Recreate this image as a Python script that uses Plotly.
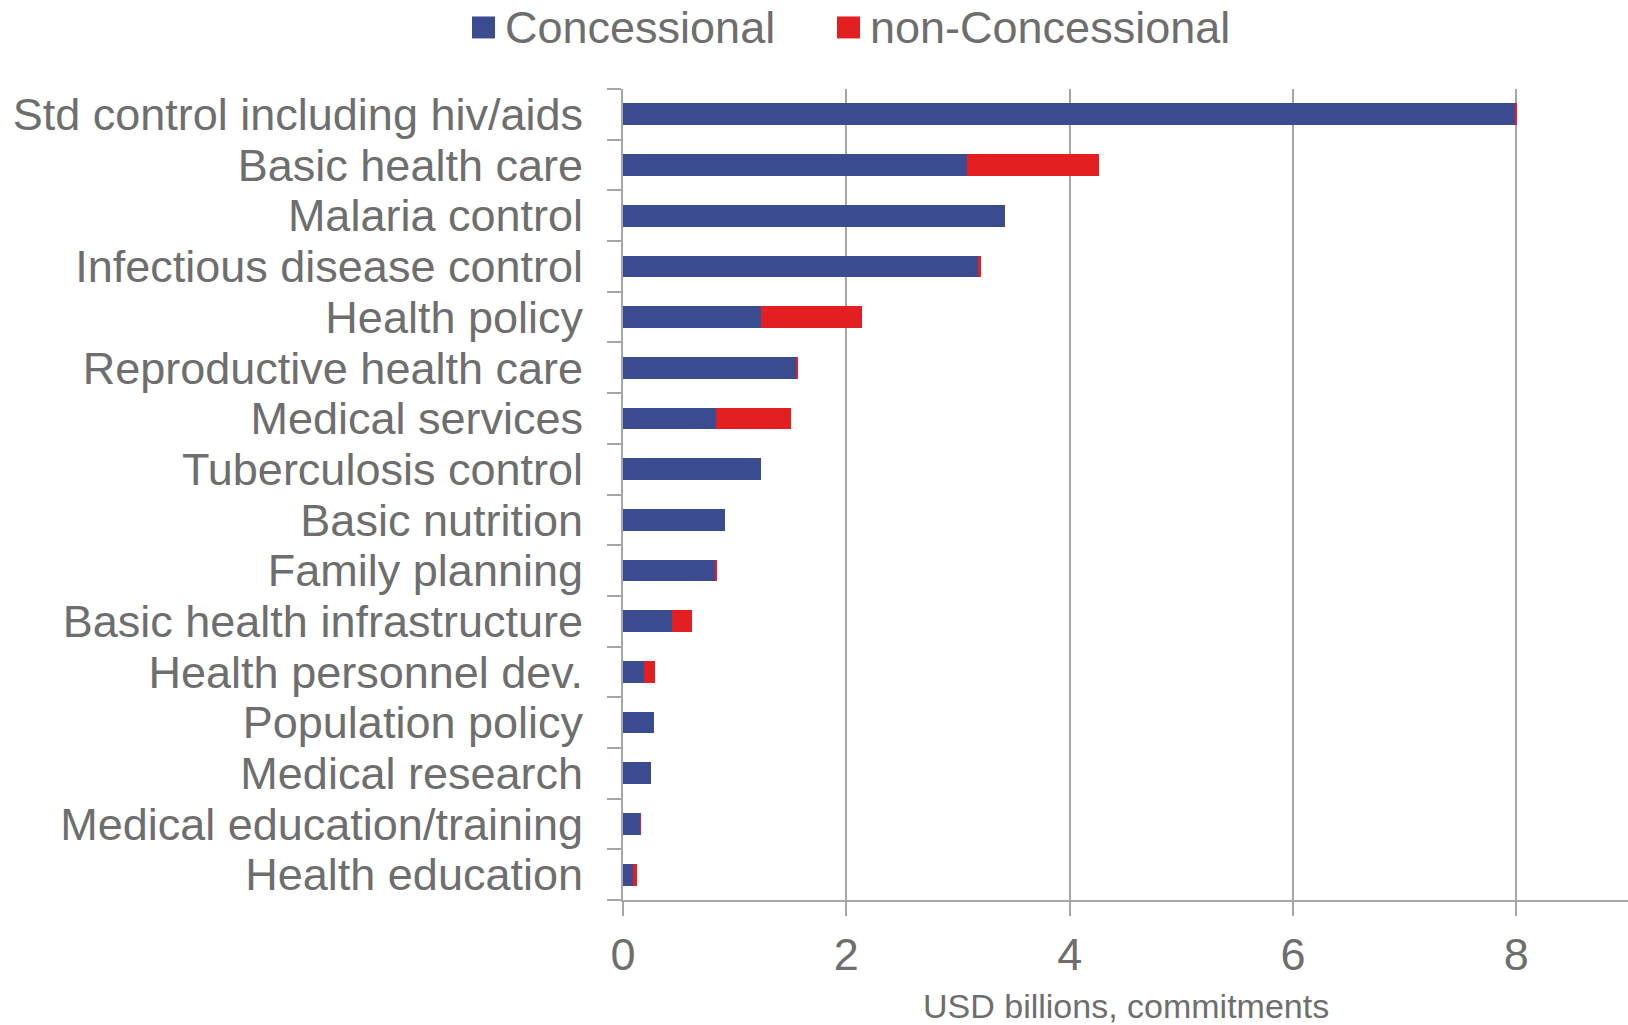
import plotly.graph_objects as go

categories = ["Std control including hiv/aids", "Basic health care", "Malaria control",
              "Infectious disease control", "Health policy", "Reproductive health care",
              "Medical services", "Tuberculosis control", "Basic nutrition", "Family planning",
              "Basic health infrastructure", "Health personnel dev.", "Population policy",
              "Medical research", "Medical education/training", "Health education"]
concessional = [7.99, 3.08, 3.42, 3.18, 1.24, 1.55, 0.83, 1.24, 0.915, 0.83, 0.435, 0.19, 0.28, 0.25, 0.155, 0.09]
non_concessional = [0.008, 1.18, 0.0, 0.03, 0.90, 0.015, 0.67, 0.0, 0.0, 0.005, 0.185, 0.095, 0.0, 0.0, 0.005, 0.035]
x_ticks = [0, 2, 4, 6, 8]
series_names = ["Concessional", "non-Concessional"]

BLUE = "#3a4b8f"
RED = "#e31f21"
TXT = "#6e6e6e"
GRID = "#a6a6a6"
FONT = "Liberation Sans, Arial, sans-serif"

fig = go.Figure()
fig.add_trace(go.Bar(y=categories, x=concessional, orientation="h", name=series_names[0],
                     marker=dict(color=BLUE, line=dict(width=0)), showlegend=False))
fig.add_trace(go.Bar(y=categories, x=non_concessional, orientation="h", name=series_names[1],
                     marker=dict(color=RED, line=dict(width=0)), showlegend=False))

W, H = 1628, 1025
L = 623
T = 88.6
BOT = 900.4  # bottom of plot area in px
B = H - BOT
pw = W - L
ph = BOT - T

def px_x(p):
    return (p - L) / pw

def px_y(p):
    return (BOT - p) / ph

# manual legend
legend_items = [(472, 495, 507, BLUE, series_names[0]), (837, 860, 872, RED, series_names[1])]
for x0, x1, tx, col, name in legend_items:
    fig.add_shape(type="rect", xref="paper", yref="paper",
                  x0=px_x(x0), x1=px_x(x1), y0=px_y(38), y1=px_y(16),
                  fillcolor=col, line=dict(width=0))
    fig.add_annotation(xref="paper", yref="paper", x=px_x(tx - 3), y=px_y(27.5),
                       xanchor="left", yanchor="middle", text=name, showarrow=False,
                       borderpad=0,
                       font=dict(family=FONT, size=45, color=TXT))

fig.add_annotation(xref="paper", yref="paper", x=0.5, y=px_y(1007),
                   xanchor="center", yanchor="middle", text="USD billions, commitments",
                   showarrow=False, font=dict(family=FONT, size=34, color=TXT))

fig.update_layout(
    barmode="stack", bargap=0.57,
    width=W, height=H,
    margin=dict(l=L, r=0, t=T, b=B, pad=0),
    paper_bgcolor="white", plot_bgcolor="white",
    font=dict(family=FONT, color=TXT, size=45),
)
fig.update_xaxes(range=[0, 9], tickvals=x_ticks, ticktext=[str(v) for v in x_ticks],
                 showgrid=True, gridcolor=GRID, gridwidth=2,
                 showline=True, linecolor=GRID, linewidth=2,
                 ticks="outside", ticklen=14, tickwidth=2, tickcolor=GRID,
                 ticklabelstandoff=0, zeroline=False, automargin=False,
                 tickfont=dict(family=FONT, size=45, color=TXT))
fig.update_yaxes(categoryorder="array", categoryarray=categories, autorange="reversed",
                 tickmode="array", tickvals=categories, ticktext=categories,
                 showgrid=False, showline=True, linecolor=GRID, linewidth=2,
                 ticks="outside", ticklen=14, tickwidth=2, tickcolor=GRID,
                 tickson="boundaries", ticklabelstandoff=29, automargin=False,
                 tickfont=dict(family=FONT, size=45, color=TXT))

fig.write_html("out.html", config={"displayModeBar": False},
               post_script="document.body.style.margin='0';document.body.style.overflow='hidden';")
